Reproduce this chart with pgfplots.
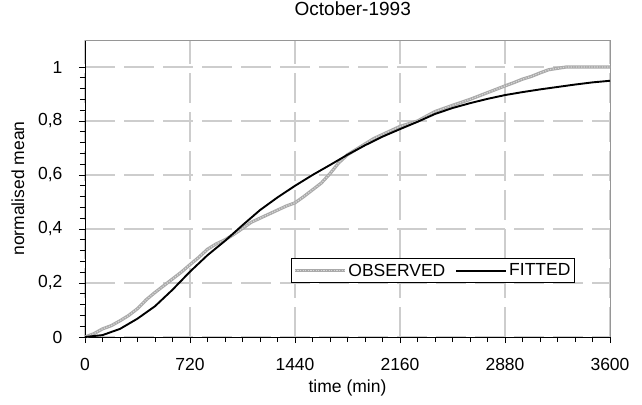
\documentclass[border=0pt]{standalone}
\usepackage{pgfplots}
\pgfplotsset{compat=1.18}
\usepackage{fontspec}
\setmainfont{Liberation Sans}
\definecolor{gridc}{RGB}{205,205,205}
\definecolor{obsc}{RGB}{170,170,170}
\definecolor{obsl}{RGB}{215,215,215}
\definecolor{framec}{RGB}{150,150,150}
\newcommand{\cf}{\fontsize{17.5bp}{20bp}\selectfont}
\newcommand{\tf}{\fontsize{19bp}{21bp}\selectfont}
\begin{document}
\begin{tikzpicture}[font=\cf]
\path[use as bounding box] (0,0) rectangle (642bp,405bp);
\begin{axis}[
  at={(85bp,68bp)}, anchor=south west,
  scale only axis, width=525bp, height=297bp,
  font=\cf,
  xmin=0, xmax=3600, ymin=0, ymax=1.1,
  xtick={0,720,1440,2160,2880,3600},
  ytick={0,0.2,0.4,0.6,0.8,1},
  minor x tick num=5, minor y tick num=4,
  tick align=outside,
  major tick length=6bp, minor tick length=5bp,
  axis x line*=bottom, axis y line*=left,
  axis line style={black, line width=0.9bp, -},
  every tick/.style={black, line width=0.8bp},
  every minor tick/.style={black, line width=0.8bp},
  grid=major,
  major grid style={gridc, line width=1.2bp, dash pattern=on 30bp off 9bp},
  /pgf/number format/use comma,
  /pgf/number format/1000 sep={},
  /pgf/number format/assume math mode=true,
  ticklabel style={font=\cf},
  xticklabel style={yshift=-12bp},
  yticklabel style={xshift=-13bp},
  title={\tf October-1993},
  title style={at={(axis description cs:0.51,1.084)}, anchor=center, inner sep=0pt},
  xlabel={\cf time (min)},
  xlabel style={at={(axis description cs:0.5,-0.172)}, anchor=center},
  ylabel={\cf normalised mean},
  ylabel style={at={(axis description cs:-0.128,0.5)}, anchor=center},
  legend columns=2,
  legend style={at={(rel axis cs:0.392,0.182)}, anchor=south west, draw=black, line width=0.8bp,
     font=\cf, inner xsep=2bp, inner ysep=3bp,
     /tikz/every even column/.append style={column sep=8bp}},
  legend cell align=left,
  legend image code/.code={\draw[#1] (0bp,0bp) -- (50bp,0bp);},
  clip=false,
]
\draw[framec, line width=0.9bp] (rel axis cs:0,1) -- (rel axis cs:1,1) -- (rel axis cs:1,0);
\addplot[obsc, line width=3.2bp, postaction={draw, obsl, line width=1.2bp, dash pattern=on 1.2bp off 1.4bp}] coordinates {
(0,0) (60,0.012) (120,0.03) (180,0.042) (240,0.06) (300,0.08) (360,0.105) (420,0.138)
(480,0.165) (540,0.19) (600,0.215) (660,0.24) (720,0.268) (780,0.295) (840,0.325)
(900,0.345) (960,0.36) (1020,0.38) (1080,0.402) (1140,0.425) (1200,0.44) (1260,0.455)
(1320,0.47) (1380,0.485) (1440,0.497) (1500,0.52) (1560,0.545) (1620,0.57) (1680,0.605)
(1740,0.645) (1800,0.675) (1860,0.695) (1920,0.715) (1980,0.735) (2040,0.75) (2100,0.765)
(2160,0.78) (2280,0.8) (2400,0.835) (2520,0.858) (2640,0.88) (2760,0.905) (2880,0.93)
(2940,0.942) (3000,0.955) (3060,0.965) (3120,0.978) (3180,0.99) (3240,0.995) (3300,1.0) (3600,1.0)
};
\addlegendentry{OBSERVED}
\addplot[black, line width=1.9bp] coordinates {
(0,0) (120,0.007) (240,0.03) (360,0.068) (480,0.114) (600,0.175) (720,0.242) (840,0.303)
(960,0.356) (1080,0.414) (1200,0.47) (1320,0.517) (1440,0.56) (1560,0.6) (1680,0.637)
(1800,0.675) (1920,0.71) (2040,0.742) (2160,0.77) (2280,0.797) (2400,0.826) (2520,0.848)
(2640,0.866) (2760,0.882) (2880,0.896) (3000,0.907) (3120,0.917) (3240,0.926) (3360,0.935)
(3480,0.943) (3600,0.949)
};
\addlegendentry{FITTED}
\end{axis}
\end{tikzpicture}
\end{document}
